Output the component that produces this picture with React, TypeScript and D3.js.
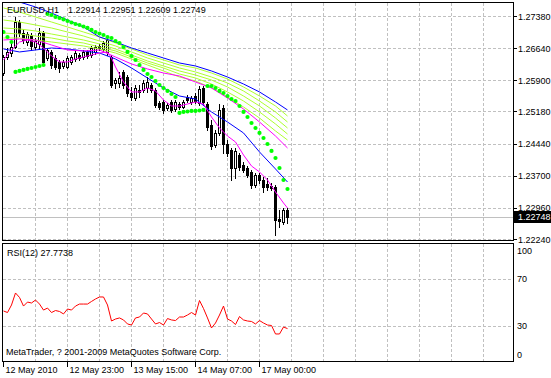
import React, { useEffect } from 'react';
import * as d3 from 'd3';

const symbolLabel = 'EURUSD,H1';
const headerPrices = '1.22914 1.22951 1.22609 1.22749';

const opens = [1.26066,1.26435,1.26527,1.26666,1.27242,1.26988,1.26781,1.26942,1.26666,1.26735,
1.26988,1.26412,1.26551,1.26412,1.26320,1.26228,1.26205,1.26320,1.26389,1.26481,
1.26435,1.26551,1.26481,1.26551,1.26689,1.26620,1.26551,1.26435,1.25836,1.25836,
1.26090,1.25974,1.25605,1.25490,1.25675,1.25675,1.25721,1.25790,1.25675,1.25375,
1.25398,1.25260,1.25398,1.25237,1.25352,1.25283,1.25513,1.25398,1.25536,1.25375,
1.25721,1.25352,1.24868,1.24407,1.24684,1.25260,1.24430,1.24292,1.23877,1.24176,
1.23946,1.23877,1.23785,1.23485,1.23715,1.23600,1.23508,1.23462,1.23439,1.22701,
1.22632,1.22914];
const highs = [1.26481,1.26643,1.26758,1.27357,1.27288,1.27081,1.27011,1.26988,1.26873,1.27104,
1.27035,1.26643,1.26597,1.26481,1.26366,1.26366,1.26458,1.26481,1.26574,1.26527,
1.26597,1.26597,1.26689,1.26712,1.26735,1.26804,1.26896,1.26481,1.25951,1.26090,
1.26136,1.26020,1.25744,1.25790,1.25790,1.25905,1.25974,1.25836,1.25721,1.25421,
1.25444,1.25375,1.25444,1.25444,1.25398,1.25444,1.25559,1.25536,1.25605,1.25767,
1.25767,1.25398,1.24983,1.24753,1.25352,1.25329,1.24522,1.24338,1.24338,1.24223,
1.24015,1.23923,1.23831,1.23762,1.23762,1.23669,1.23646,1.23531,1.23485,1.22909,
1.22955,1.22951];
const lows = [1.26020,1.26389,1.26458,1.26643,1.26919,1.26758,1.26712,1.26597,1.26620,1.26620,
1.26251,1.26366,1.26182,1.26159,1.26090,1.26182,1.26182,1.26274,1.26343,1.26366,
1.26389,1.26412,1.26435,1.26504,1.26597,1.26574,1.26481,1.25744,1.25721,1.25744,
1.25721,1.25536,1.25444,1.25444,1.25513,1.25629,1.25629,1.25629,1.25283,1.25237,
1.25145,1.25214,1.25168,1.25191,1.25237,1.25260,1.25398,1.25352,1.25375,1.25329,
1.25352,1.24753,1.24315,1.24361,1.24637,1.24223,1.24153,1.23600,1.23646,1.23831,
1.23785,1.23669,1.23416,1.23439,1.23531,1.23324,1.23370,1.23370,1.22333,1.22517,
1.22586,1.22609];
const closes = [1.26435,1.26551,1.26666,1.27242,1.26988,1.26827,1.26965,1.26689,1.26804,1.26988,
1.26320,1.26597,1.26251,1.26205,1.26182,1.26320,1.26412,1.26435,1.26527,1.26412,
1.26551,1.26458,1.26643,1.26666,1.26643,1.26758,1.26827,1.25790,1.25905,1.25951,
1.25790,1.25605,1.25513,1.25721,1.25629,1.25836,1.25859,1.25675,1.25329,1.25283,
1.25214,1.25329,1.25214,1.25398,1.25283,1.25398,1.25444,1.25490,1.25421,1.25698,
1.25398,1.24822,1.24384,1.24684,1.25214,1.24430,1.24223,1.23877,1.24269,1.23900,
1.23831,1.23715,1.23485,1.23715,1.23600,1.23439,1.23439,1.23416,1.22678,1.22655,
1.22909,1.22749];

const sar = [1.27011,1.26896,1.26781,1.26090,1.26113,1.26136,1.26159,1.26182,1.26205,1.26228,
1.26251,1.27426,1.27403,1.27357,1.27334,1.27300,1.27265,1.27230,1.27196,1.27173,
1.27138,1.27104,1.27058,1.27011,1.26977,1.26942,1.26896,1.26873,1.26804,1.26758,
1.26666,1.26551,1.26458,1.26366,1.26251,1.26136,1.26043,1.25974,1.25882,1.25790,
1.25721,1.25652,1.25582,1.25513,1.25145,1.25168,1.25179,1.25191,1.25191,1.25202,
1.25214,1.25767,1.25767,1.25721,1.25652,1.25605,1.25536,1.25467,1.25421,1.25306,
1.25168,1.25052,1.24914,1.24799,1.24684,1.24568,1.24430,1.24269,1.24107,1.23877,
1.23600,1.23393];

const lineIdx = [0,4,8,12,16,20,24,28,32,36,40,44,48,52,56,60,64,68,71];
const blueUpper = [1.27818,1.27703,1.27588,1.27449,1.27288,1.27127,1.26896,1.26781,1.26643,1.26527,1.26412,1.26297,1.26228,1.26113,1.25974,1.25813,1.25629,1.25398,1.25214];
const blueLower = [1.26620,1.26551,1.26597,1.26643,1.26620,1.26574,1.26527,1.26389,1.26182,1.25951,1.25721,1.25536,1.25467,1.25168,1.24937,1.24684,1.24246,1.23854,1.23554];
const green1 = [1.27565,1.27472,1.27357,1.27242,1.27127,1.27011,1.26896,1.26758,1.26620,1.26481,1.26366,1.26251,1.26182,1.26066,1.25928,1.25744,1.25536,1.25306,1.25075];
const green2 = [1.27288,1.27242,1.27173,1.27104,1.27011,1.26919,1.26804,1.26689,1.26551,1.26412,1.26297,1.26182,1.26090,1.25974,1.25836,1.25652,1.25421,1.25168,1.24937];
const green3 = [1.27104,1.27081,1.27035,1.26965,1.26896,1.26827,1.26735,1.26620,1.26481,1.26343,1.26228,1.26113,1.26020,1.25905,1.25744,1.25536,1.25306,1.25029,1.24799];
const green4 = [1.26988,1.26965,1.26919,1.26873,1.26804,1.26758,1.26666,1.26574,1.26435,1.26297,1.26182,1.26043,1.25951,1.25813,1.25629,1.25421,1.25168,1.24891,1.24660];
const green5 = [1.26873,1.26873,1.26827,1.26781,1.26735,1.26689,1.26620,1.26527,1.26389,1.26251,1.26113,1.25974,1.25882,1.25721,1.25513,1.25283,1.25029,1.24730,1.24522];
const magentaSlow = [1.26827,1.26850,1.26827,1.26712,1.26597,1.26574,1.26597,1.26435,1.26274,1.26159,1.26066,1.25997,1.25859,1.25721,1.25490,1.25237,1.24937,1.24614,1.24338];

const fastIdx = [0,2,4,6,8,10,12,14,16,18,20,22,24,26,27,28,30,32,34,36,38,40,42,44,46,48,50,52,54,56,58,60,62,64,66,68,70,71];
const magentaFast = [1.26366,1.26597,1.26781,1.26827,1.26781,1.26643,1.26458,1.26320,1.26320,1.26389,1.26435,1.26481,1.26527,1.26551,1.26412,1.26205,1.25859,1.25629,1.25629,1.25721,1.25652,1.25444,1.25306,1.25306,1.25352,1.25398,1.25352,1.25052,1.24799,1.24614,1.24476,1.24176,1.23923,1.23785,1.23600,1.23324,1.23070,1.22955];

const rsi = [42.7,41.4,47.8,58.0,54.2,46.9,50.3,49.5,52.0,48.6,
43.5,45.2,41.4,43.1,42.3,40.2,44.4,43.5,46.9,48.6,
48.6,48.6,50.8,52.9,54.6,54.6,47.8,34.2,35.9,36.8,
35.1,31.7,30.8,36.8,37.6,41.0,40.2,35.9,31.7,32.9,
30.8,36.3,35.1,34.6,37.6,37.6,39.3,41.4,39.3,51.6,
44.8,36.8,28.3,32.5,39.3,46.9,35.9,34.2,31.2,38.0,
35.1,34.2,33.8,31.7,34.6,32.5,30.8,30.4,23.2,23.2,
29.1,27.77];

const priceTicks = [1.27380,1.26640,1.25900,1.25180,1.24440,1.23700,1.22960,1.22240];
const priceTickLabels = ['1.27380','1.26640','1.25900','1.25180','1.24440','1.23700','1.22960','1.22240'];
const currentPrice = 1.22748;
const currentPriceLabel = '1.22748';
const rsiLevels = [70, 30];
const rsiAxisLabels = ['100', '70', '30', '0'];
const rsiAxisValues = [100, 70, 30, 0];
const timeLabels = ['12 May 2010', '12 May 23:00', '13 May 15:00', '14 May 07:00', '17 May 00:00'];
const timeLabelBars = [0, 16, 32, 48, 64];
const rsiTitle = 'RSI(12) 27.7738';
const copyright = 'MetaTrader, ? 2001-2009 MetaQuotes Software Corp.';

const FONT = "'Liberation Sans', Arial, sans-serif";
const GRID = '#c0c0c0';

export default function App() {
  useEffect(() => {
    document.body.style.margin = '0';
  }, []);

  const n = closes.length;
  const x = d3.scaleLinear().domain([0, n - 1]).range([3.5, 287.5]);
  const y = d3.scaleLinear().domain([1.2224, 1.2738]).range([239, 16]);
  const yr = d3.scaleLinear().domain([0, 100]).range([361.3, 243.5]);

  const mainLeft = 2.5, mainRight = 513.5, mainTop = 2.5, mainBottom = 240.5;
  const rsiTop = 243.5, rsiBottom = 361.5;

  const gridBars = d3.range(8, 121, 8).filter(b => x(b) < mainRight - 2);

  const mkLine = (idx: number[], vals: number[]) =>
    d3.line<number>().x((_, i) => x(idx[i])).y(v => y(v))(vals) || '';

  const indicators = [
    { vals: green5, idx: lineIdx, color: '#adff2f' },
    { vals: green4, idx: lineIdx, color: '#adff2f' },
    { vals: green3, idx: lineIdx, color: '#adff2f' },
    { vals: green2, idx: lineIdx, color: '#adff2f' },
    { vals: green1, idx: lineIdx, color: '#adff2f' },
    { vals: blueUpper, idx: lineIdx, color: '#0000ff' },
    { vals: blueLower, idx: lineIdx, color: '#0000ff' },
    { vals: magentaSlow, idx: lineIdx, color: '#ff00ff' },
    { vals: magentaFast, idx: fastIdx, color: '#ff00ff' },
  ];

  const rsiPath = d3.line<number>().x((_, i) => x(i)).y(v => yr(v))(rsi) || '';

  return (
    <svg width={551} height={378} style={{ position: 'absolute', left: 0, top: 0, display: 'block' }}
      fontFamily={FONT} fontSize={9}>
      <defs>
        <clipPath id="mainClip"><rect x={3} y={3} width={510} height={237} /></clipPath>
        <clipPath id="rsiClip"><rect x={3} y={244} width={510} height={117} /></clipPath>
      </defs>
      <rect x={0} y={0} width={551} height={378} fill="#fff" />

      <g stroke={GRID} strokeWidth={1} strokeDasharray="3,2" shapeRendering="crispEdges">
        {gridBars.map(b => (
          <line key={'vm' + b} x1={x(b)} x2={x(b)} y1={3} y2={240} />
        ))}
        {priceTicks.map(p => (
          <line key={'hm' + p} x1={3} x2={513} y1={Math.round(y(p)) + 0.5} y2={Math.round(y(p)) + 0.5} />
        ))}
        {gridBars.map(b => (
          <line key={'vr' + b} x1={x(b)} x2={x(b)} y1={244} y2={361} />
        ))}
        {rsiLevels.map(l => (
          <line key={'hr' + l} x1={3} x2={513} y1={Math.round(yr(l)) + 0.5} y2={Math.round(yr(l)) + 0.5} />
        ))}
      </g>

      <line x1={3} x2={513} y1={Math.round(y(currentPrice)) + 0.5} y2={Math.round(y(currentPrice)) + 0.5}
        stroke={GRID} strokeWidth={1} shapeRendering="crispEdges" />

      <g clipPath="url(#mainClip)" shapeRendering="crispEdges">
        {closes.map((c, i) => {
          const o = opens[i];
          const cx = x(i);
          const yh = Math.round(y(highs[i]));
          const yl = Math.round(y(lows[i]));
          const yo = Math.round(y(o));
          const yc = Math.round(y(c));
          const top = Math.min(yo, yc);
          const bot = Math.max(yo, yc);
          const bull = c > o;
          return (
            <g key={'c' + i}>
              <line x1={cx} x2={cx} y1={yh} y2={yl + 1} stroke="#000" strokeWidth={1} />
              {bull ? (
                <rect x={cx - 1} y={top + 0.5} width={2} height={Math.max(1, bot - top)} fill="#fff" stroke="#000" strokeWidth={1} />
              ) : (
                <rect x={cx - 1.5} y={top} width={3} height={Math.max(1, bot - top + 1)} fill="#000" />
              )}
            </g>
          );
        })}
      </g>

      <g clipPath="url(#mainClip)" fill="none" strokeWidth={1}>
        {indicators.map((ind, k) => (
          <path key={'ind' + k} d={mkLine(ind.idx, ind.vals)} stroke={ind.color} />
        ))}
      </g>

      <g clipPath="url(#mainClip)" fill="#00ff00">
        {sar.map((s, i) => (
          <circle key={'s' + i} cx={x(i)} cy={y(s)} r={2.1} />
        ))}
      </g>

      <g clipPath="url(#rsiClip)">
        <path d={rsiPath} fill="none" stroke="#ff0000" strokeWidth={1} />
      </g>

      <g fill="none" stroke="#000" strokeWidth={1} shapeRendering="crispEdges">
        <rect x={mainLeft} y={mainTop} width={mainRight - mainLeft} height={mainBottom - mainTop} />
        <rect x={mainLeft} y={rsiTop} width={mainRight - mainLeft} height={rsiBottom - rsiTop} />
      </g>

      <text x={7} y={13} fill="#000">{symbolLabel}</text>
      <text x={68} y={13} fill="#000">{headerPrices}</text>
      <text x={7} y={256} fill="#000">{rsiTitle}</text>
      <text x={6} y={355} fill="#000">{copyright}</text>

      <g>
        {priceTicks.map((p, i) => (
          <g key={'pt' + i}>
            <line x1={514} x2={517} y1={Math.round(y(p)) + 0.5} y2={Math.round(y(p)) + 0.5} stroke="#000" shapeRendering="crispEdges" />
            <text x={518} y={y(p) + 3.5} fill="#000">{priceTickLabels[i]}</text>
          </g>
        ))}
        <rect x={514} y={Math.round(y(currentPrice)) - 6} width={37} height={12} fill="#000" />
        <text x={518} y={y(currentPrice) + 3.5} fill="#fff">{currentPriceLabel}</text>
      </g>

      <g>
        {rsiAxisValues.map((v, i) => {
          const yy = Math.min(Math.max(yr(v), 250), 354);
          return (
            <text key={'ra' + i} x={517} y={yy + 3.5} fill="#000">{rsiAxisLabels[i]}</text>
          );
        })}
      </g>

      <g>
        {timeLabelBars.map((b, i) => (
          <g key={'tl' + i}>
            <line x1={x(b)} x2={x(b)} y1={362} y2={367} stroke="#000" shapeRendering="crispEdges" />
            <text x={x(b) + 2} y={373} fill="#000">{timeLabels[i]}</text>
          </g>
        ))}
      </g>
    </svg>
  );
}
